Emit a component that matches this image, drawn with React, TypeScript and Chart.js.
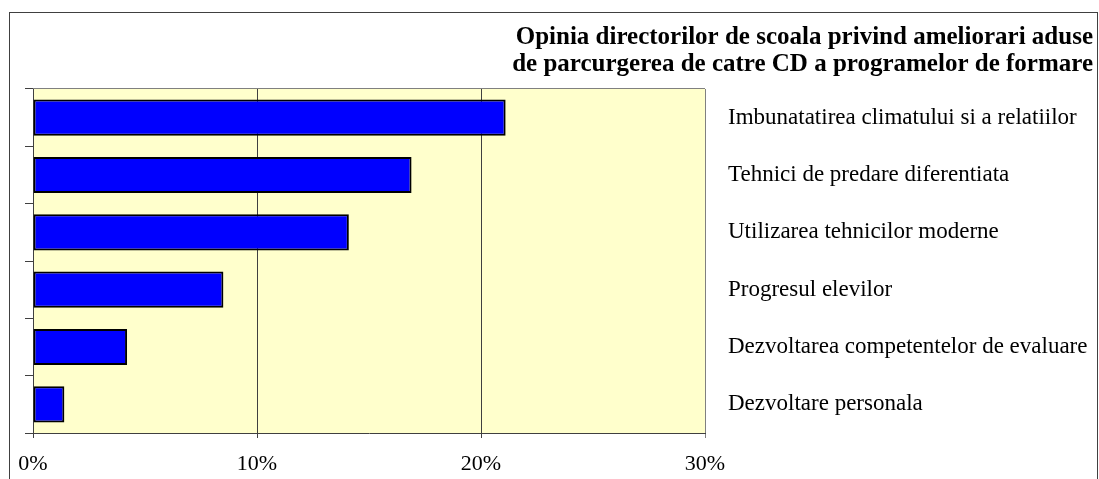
import React, { useEffect, useRef } from 'react';
import { Chart, registerables } from 'chart.js';

Chart.register(...registerables);

const categories = [
  'Imbunatatirea climatului si a relatiilor',
  'Tehnici de predare diferentiata',
  'Utilizarea tehnicilor moderne',
  'Progresul elevilor',
  'Dezvoltarea competentelor de evaluare',
  'Dezvoltare personala',
];
const values = [21.1, 16.9, 14.1, 8.5, 4.2, 1.4];
const titleLines = [
  'Opinia directorilor de scoala privind ameliorari aduse',
  'de parcurgerea de catre CD a programelor de formare',
];
const xMin = 0;
const xMax = 30;
const xStep = 10;

const FONT = "'Liberation Serif', 'Times New Roman', serif";

const framePlugin = {
  id: 'frameAndBackground',
  beforeDraw(chart: any) {
    const { ctx, chartArea: a } = chart;
    ctx.save();
    ctx.fillStyle = '#FFFFCC';
    ctx.fillRect(a.left, a.top, a.right - a.left, a.bottom - a.top);
    ctx.strokeStyle = '#808080';
    ctx.lineWidth = 1;
    ctx.beginPath();
    ctx.moveTo(a.left, a.top - 0.5);
    ctx.lineTo(a.right, a.top - 0.5);
    ctx.stroke();
    ctx.strokeStyle = '#404040';
    ctx.strokeRect(9.5, 12.5, 1088, 520);
    ctx.restore();
  },
};

export default function App() {
  const ref = useRef<HTMLCanvasElement | null>(null);

  useEffect(() => {
    document.body.style.margin = '0';
    if (!ref.current) return;
    const chart = new Chart(ref.current, {
      type: 'bar',
      data: {
        labels: categories,
        datasets: [
          {
            data: values,
            backgroundColor: '#0000FF',
            borderColor: '#000000',
            borderWidth: 2,
            borderSkipped: false,
            barPercentage: 0.63,
            categoryPercentage: 1,
          },
        ],
      },
      options: {
        indexAxis: 'y',
        animation: false,
        responsive: false,
        layout: { padding: { left: 0, right: 6, top: 0, bottom: 0 } },
        plugins: {
          legend: { display: false },
          tooltip: { enabled: false },
          title: {
            display: true,
            text: titleLines,
            align: 'end',
            color: '#000000',
            font: { family: FONT, size: 25, weight: 'bold', lineHeight: 1.08 },
            padding: { top: 24, bottom: 11 },
          },
        },
        scales: {
          x: {
            type: 'linear',
            position: 'bottom',
            min: xMin,
            max: xMax,
            ticks: {
              stepSize: xStep,
              color: '#000000',
              padding: 13,
              font: { family: FONT, size: 22 },
              callback: (v: any) => v + '%',
            },
            grid: {
              color: (c: any) => (c.index === 3 ? '#808080' : '#404040'),
              lineWidth: 1,
              tickLength: 5,
            },
            border: { display: true, color: '#404040', width: 1 },
            afterFit: (s: any) => {
              s.height = 46;
            },
          },
          y: {
            type: 'category',
            position: 'left',
            offset: true,
            ticks: { display: false },
            grid: {
              offset: true,
              drawOnChartArea: false,
              color: '#404040',
              tickLength: 8,
            },
            border: { display: true, color: '#404040', width: 1 },
            afterFit: (s: any) => {
              s.width = 33;
            },
          },
          y2: {
            type: 'category',
            position: 'right',
            offset: true,
            labels: categories,
            ticks: {
              color: '#000000',
              padding: 23,
              autoSkip: false,
              font: { family: FONT, size: 23 },
            },
            grid: { display: false, drawTicks: false },
            border: { display: false },
            afterFit: (s: any) => {
              s.width = 388;
            },
          },
        },
      },
      plugins: [framePlugin],
    });
    return () => chart.destroy();
  }, []);

  return (
    <div style={{ position: 'fixed', left: 0, top: 0 }}>
      <canvas ref={ref} width={1099} height={479} style={{ display: 'block' }} />
    </div>
  );
}
